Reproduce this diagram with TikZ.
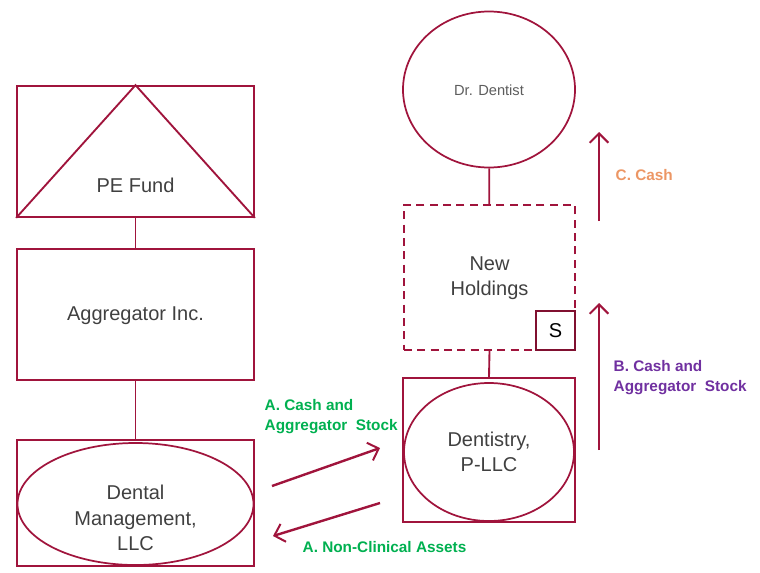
\documentclass[tikz,border=0pt]{standalone}
\usepackage{fontspec}
\setmainfont{Liberation Sans}
\usetikzlibrary{shapes.geometric, arrows.meta}

\definecolor{boxred}{RGB}{160,20,60}
\definecolor{txtgray}{RGB}{64,64,64}
\definecolor{agreen}{RGB}{0,176,80}
\definecolor{bpurple}{RGB}{112,48,160}
\definecolor{corange}{RGB}{236,150,100}

\tikzset{
  entity/.style={rectangle,draw=boxred,line width=1.3pt,inner sep=0pt},
  oval/.style={ellipse,draw=boxred,line width=1.3pt,inner sep=0pt},
  link/.style={draw=boxred,line width=1.4pt},
  maintext/.style={text=txtgray,font=\fontsize{15pt}{19pt}\selectfont,align=center},
  flowlabel/.style={font=\bfseries\fontsize{11.5pt}{15pt}\selectfont,align=left,anchor=west},
  flow/.style={-{Straight Barb[length=7pt,width=14pt,line width=1.5pt]},draw=boxred,line width=1.8pt}
}

\begin{document}
\begin{tikzpicture}[x=0.75pt,y=-0.75pt]
\useasboundingbox (0,0) rectangle (760,572);

        % left side: fund, aggregator, management company
        \node[entity,minimum width=177.75pt,minimum height=98.25pt]   (pe)     at (135.5,151.5) {};
        \draw[link] (pe.south west) -- (pe.north) -- (pe.south east);
        \node[maintext]                                               (petext) at (135.5,185)   {PE Fund};

        \node[entity,minimum width=177.75pt,minimum height=98.25pt]   (agg)    at (135.5,314.5) {};
        \node[maintext]                                               (aggtext) at (135.5,316)  {Aggregator Inc.};

        \node[entity,minimum width=177.75pt,minimum height=94.5pt]    (dmbox)  at (135.5,503)   {};
        \node[oval,minimum width=177pt,minimum height=91.5pt]         (dm)     at (135.5,504)   {};
        \node[maintext]                                               (dmtext) at (135.5,518)   {Dental\\Management,\\LLC};

        % right side: dentist, holdings, practice
        \node[oval,minimum width=129pt,minimum height=117pt]          (dr)     at (489,89.5)    {};
        \node[text=txtgray!85,font=\fontsize{11pt}{13pt}\selectfont]  (drtext) at (489,90)      {Dr. Dentist};

        \node[entity,dashed,dash pattern=on 6pt off 4pt,minimum width=128.25pt,minimum height=108.75pt] (nh) at (489.5,277.5) {};
        \node[maintext]                                               (nhtext) at (489.5,278)   {New\\Holdings};
        \node[rectangle,draw=boxred!80!black,line width=1.3pt,minimum size=29.25pt,inner sep=0pt,
              anchor=south east,font=\fontsize{15pt}{18pt}\selectfont] (s)     at (nh.south east) {S};

        \node[entity,minimum width=129pt,minimum height=108pt]        (dentbox) at (489,450)    {};
        \node[oval,minimum width=127.5pt,minimum height=103.5pt]      (dent)   at (489,452)     {};
        \node[maintext]                                               (denttext) at (489,452)   {Dentistry,\\P-LLC};

        % ownership lines
        \draw[link] (pe) -- (agg);
        \draw[link] (agg) -- (dmbox);
        \draw[link] (dr) -- (nh);
        \draw[link] (nh.south) -- (dentbox.north);

        % flows
        \coordinate (a1s) at (272,486);
        \coordinate (a1e) at (380,448);
        \coordinate (a2s) at (380,503);
        \coordinate (a2e) at (273,536);
        \coordinate (bs)  at (599,450);
        \coordinate (be)  at (599,303);
        \coordinate (cs)  at (599,221);
        \coordinate (ce)  at (599,132);

        \draw[flow] (a1s) -- (a1e);
        \draw[flow] (a2s) -- (a2e);
        \draw[flow] (bs) -- (be);
        \draw[flow] (cs) -- (ce);

        \node[flowlabel,text=agreen]  (a1lab) at (260,417) {A. Cash and\\Aggregator\ \ Stock};
        \node[flowlabel,text=agreen]  (a2lab) at (298,547) {A. Non-Clinical Assets};
        \node[flowlabel,text=bpurple] (blab)  at (609,378) {B. Cash and\\Aggregator\ \ Stock};
        \node[flowlabel,text=corange] (clab)  at (611,175) {C. Cash};

\end{tikzpicture}
\end{document}
